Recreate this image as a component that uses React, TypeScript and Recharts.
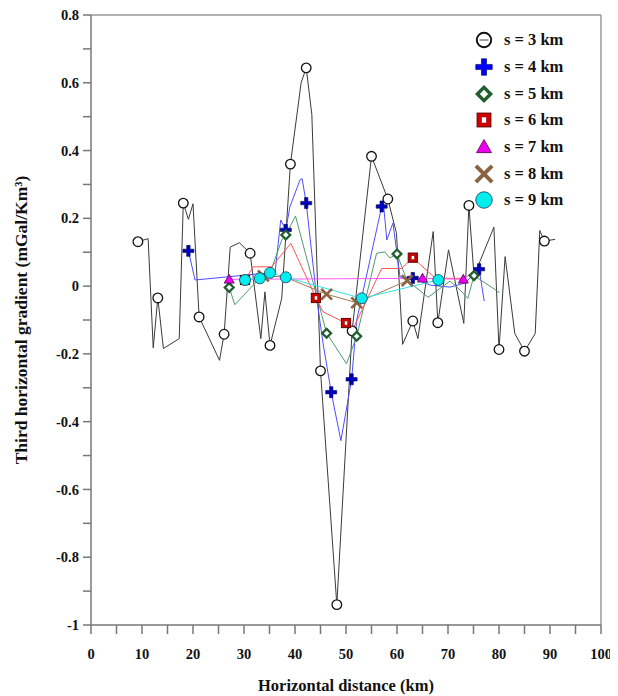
import { ComposedChart, Line, XAxis, YAxis, ReferenceLine, Label } from "recharts";

// [distance km, gradient, 1 = draw marker]
type Row = [number, number, number];

const s3km: Row[] = [
  [9.2, 0.131, 1], [11.2, 0.14, 0], [12.2, -0.182, 0], [13.1, -0.035, 1], [14.2, -0.184, 0],
  [17.3, -0.155, 0], [18.1, 0.245, 1], [19.1, 0.197, 0], [20.0, 0.243, 0], [21.2, -0.091, 1],
  [25.2, -0.219, 0], [26.1, -0.142, 1], [27.3, 0.115, 0], [29.1, 0.128, 0], [31.2, 0.097, 1],
  [33.3, -0.155, 0], [34.1, -0.017, 0], [35.1, -0.175, 1], [37.4, -0.036, 0], [39.1, 0.36, 1],
  [41.2, 0.6, 0], [42.2, 0.644, 1], [43.3, 0.506, 0], [45.0, -0.25, 1], [48.2, -0.94, 1],
  [51.2, -0.132, 1], [55.0, 0.383, 1], [58.2, 0.257, 1], [59.9, 0.156, 0], [61.1, -0.172, 0],
  [63.1, -0.103, 1], [64.1, -0.155, 0], [67.1, 0.161, 0], [68.0, -0.108, 1], [70.1, 0.107, 0],
  [73.1, -0.11, 0], [74.1, 0.238, 1], [75.1, 0.03, 0], [79.0, 0.174, 0], [80.0, -0.187, 1],
  [81.2, 0.087, 0], [83.1, -0.14, 0], [85.0, -0.192, 1], [87.1, -0.14, 0], [88.0, 0.164, 0],
  [88.9, 0.133, 1], [91.0, 0.138, 0],
];

const s4km: Row[] = [
  [19.1, 0.104, 1], [20.4, 0.018, 0], [36.1, 0.041, 0], [37.2, 0.195, 0], [38.2, 0.166, 1],
  [39.0, 0.234, 0], [41.0, 0.314, 0], [41.4, 0.317, 0], [42.2, 0.245, 1], [44.3, -0.041, 0],
  [45.5, -0.169, 0], [47.1, -0.313, 1], [49.0, -0.456, 0], [51.1, -0.275, 1], [52.1, -0.1, 0],
  [54.7, 0.077, 0], [57.0, 0.235, 1], [57.3, 0.251, 0], [58.0, 0.136, 0], [59.2, 0.186, 0],
  [59.9, 0.107, 0], [60.6, 0.027, 0], [63.1, 0.024, 1], [66.5, 0.003, 0], [70.4, -0.003, 0],
  [73.3, 0.009, 0], [76.1, 0.05, 1], [77.1, -0.044, 0],
];

const s5km: Row[] = [
  [27.1, -0.004, 1], [28.2, -0.055, 0], [33.1, 0.024, 0], [35.1, 0.038, 0], [37.4, 0.136, 0],
  [38.2, 0.151, 1], [40.1, 0.207, 0], [46.2, -0.139, 1], [50.1, -0.229, 0], [52.1, -0.148, 1],
  [56.0, 0.097, 0], [57.6, 0.101, 0], [58.6, 0.083, 0], [60.0, 0.095, 1], [61.9, 0.018, 0],
  [66.1, -0.033, 0], [70.4, 0.015, 0], [72.4, -0.012, 0], [73.9, -0.036, 0], [75.1, 0.031, 1],
  [80.1, -0.019, 0],
];

const s6km: Row[] = [
  [30.2, 0.018, 1], [31.8, 0.057, 0], [35.4, 0.057, 0], [39.2, 0.126, 0], [44.1, -0.035, 1],
  [45.5, -0.076, 0], [50.0, -0.109, 1], [51.1, -0.135, 0], [57.0, 0.052, 0], [60.9, 0.052, 0],
  [63.1, 0.084, 1], [67.5, 0.023, 0], [73.0, 0.023, 0],
];

const s7km: Row[] = [
  [27.1, 0.02, 1], [65.0, 0.023, 1], [73.0, 0.02, 1], [75.1, 0.044, 0],
];

const s8km: Row[] = [
  [33.8, 0.03, 1], [38.0, 0.027, 0], [46.2, -0.024, 1], [52.1, -0.049, 1], [62.0, 0.016, 1],
];

const s9km: Row[] = [
  [30.2, 0.018, 1], [33.1, 0.023, 1], [35.1, 0.039, 1], [38.2, 0.026, 1], [53.1, -0.036, 1],
  [68.1, 0.018, 1],
];

const xTicks = [0, 5, 10, 15, 20, 25, 30, 35, 40, 45, 50, 55, 60, 65, 70, 75, 80, 85, 90, 95, 100];
const yTicks = [0.8, 0.7, 0.6, 0.5, 0.4, 0.3, 0.2, 0.1, 0, -0.1, -0.2, -0.3, -0.4, -0.5, -0.6, -0.7, -0.8, -0.9, -1];

type Kind = "ring" | "plus" | "diamond" | "square" | "triangle" | "cross" | "disc";

const series: { name: string; rows: Row[]; color: string; kind: Kind }[] = [
  { name: "s = 3 km", rows: s3km, color: "#3a3a3a", kind: "ring" },
  { name: "s = 4 km", rows: s4km, color: "#4d4dff", kind: "plus" },
  { name: "s = 5 km", rows: s5km, color: "#4f9a6c", kind: "diamond" },
  { name: "s = 6 km", rows: s6km, color: "#ff5555", kind: "square" },
  { name: "s = 7 km", rows: s7km, color: "#ff55ff", kind: "triangle" },
  { name: "s = 8 km", rows: s8km, color: "#a07a5a", kind: "cross" },
  { name: "s = 9 km", rows: s9km, color: "#33e0e0", kind: "disc" },
];

const serif = "'Liberation Serif', 'Times New Roman', serif";

function Marker({ kind, cx, cy, k = 1 }: { kind: Kind; cx: number; cy: number; k?: number }) {
  switch (kind) {
    case "ring":
      return (
        <g>
          <circle cx={cx} cy={cy} r={4.8 * k} fill="#fff" stroke="#111" strokeWidth={1.3 * k} />
          {k > 1 && <line x1={cx - 3 * k} x2={cx + 3 * k} y1={cy} y2={cy} stroke="#999" strokeWidth={1.2 * k} />}
        </g>
      );
    case "plus": {
      const a = 5.5 * k;
      const t = 1.7 * k;
      const d = `M${cx - t},${cy - a}H${cx + t}V${cy - t}H${cx + a}V${cy + t}H${cx + t}V${cy + a}H${cx - t}V${cy + t}H${cx - a}V${cy - t}H${cx - t}Z`;
      return <path d={d} fill={k > 1 ? "#0000ff" : "#0000c0"} stroke="#00004a" strokeWidth={0.6} />;
    }
    case "diamond": {
      const a = 4.4 * k;
      return (
        <polygon
          points={`${cx},${cy - a} ${cx + a},${cy} ${cx},${cy + a} ${cx - a},${cy}`}
          fill="#fff"
          stroke="#1f5e2e"
          strokeWidth={2.3 * k}
        />
      );
    }
    case "square": {
      const a = 4.6 * k;
      return (
        <g>
          <rect x={cx - a} y={cy - a} width={2 * a} height={2 * a} fill="#d40000" stroke="#5a0000" strokeWidth={1} />
          <rect x={cx - 1.6 * k} y={cy - 2 * k} width={3.2 * k} height={4 * k} fill="#fff" stroke="#700" strokeWidth={0.5} />
        </g>
      );
    }
    case "triangle": {
      const a = 5 * k;
      return (
        <polygon
          points={`${cx},${cy - a} ${cx + a},${cy + a * 0.75} ${cx - a},${cy + a * 0.75}`}
          fill="#ee00ee"
          stroke="#550055"
          strokeWidth={0.8}
        />
      );
    }
    case "cross": {
      const a = 4.5 * k;
      return (
        <g stroke="#8a6440" strokeWidth={2.6 * k} strokeLinecap="square">
          <line x1={cx - a} y1={cy - a} x2={cx + a} y2={cy + a} />
          <line x1={cx - a} y1={cy + a} x2={cx + a} y2={cy - a} />
        </g>
      );
    }
    default:
      return <circle cx={cx} cy={cy} r={5.5 * k} fill="#00eeee" stroke="#1a3a5a" strokeWidth={0.8} />;
  }
}

const toPoints = (rows: Row[]) => rows.map(([x, y, m]) => ({ x, y, m }));

function LegendBox() {
  return (
    <div
      style={{
        position: "absolute",
        top: 19,
        left: 464,
        fontFamily: serif,
        fontWeight: "bold",
        fontSize: 16.5,
        color: "#111",
      }}
    >
      {series.map((s) => (
        <div key={s.name} style={{ display: "flex", alignItems: "center", height: 26.7 }}>
          <svg width={24} height={24}>
            <Marker kind={s.kind} cx={12} cy={12} k={1.5} />
          </svg>
          <span style={{ marginLeft: 8 }}>{s.name}</span>
        </div>
      ))}
    </div>
  );
}

const fmtY = (v: number) => (Math.round(v * 10) % 2 === 0 ? String(v) : "");
const fmtX = (v: number) => (v % 10 === 0 ? String(v) : "");

export default function App() {
  const tickStyle = { fontFamily: serif, fontWeight: "bold", fontSize: 14.5, fill: "#111" };
  return (
    <div style={{ position: "relative", width: 610, height: 688 }}>
      <ComposedChart width={610} height={688} margin={{ top: 7, right: 17, bottom: 3, left: 0 }}>
        <XAxis
          type="number"
          dataKey="x"
          domain={[0, 100]}
          ticks={xTicks}
          interval={0}
          tickFormatter={fmtX}
          tick={tickStyle}
          tickSize={9}
          tickMargin={15}
          height={68}
          stroke="#777"
          strokeWidth={1.5}
        >
          <Label
            value="Horizontal distance (km)"
            position="insideBottom"
            offset={2}
            style={{ fontFamily: serif, fontWeight: "bold", fontSize: 16.5, fill: "#111" }}
          />
        </XAxis>
        <YAxis
          type="number"
          domain={[-1, 0.8]}
          ticks={yTicks}
          interval={0}
          tickFormatter={fmtY}
          tick={tickStyle}
          tickSize={8}
          tickMargin={4}
          width={83}
          stroke="#777"
          strokeWidth={1.5}
        >
          <Label
            value="Third horizontal gradient (mGal/Km³)"
            angle={-90}
            position="insideLeft"
            offset={13}
            style={{ fontFamily: serif, fontWeight: "bold", fontSize: 17.5, fill: "#111", textAnchor: "middle" }}
          />
        </YAxis>
        <ReferenceLine y={0.8} stroke="#999" strokeWidth={1.5} />
        <ReferenceLine x={100} stroke="#999" strokeWidth={1.5} />
        {series.map((s) => (
          <Line
            key={s.name}
            name={s.name}
            data={toPoints(s.rows)}
            dataKey="y"
            type="linear"
            stroke={s.color}
            strokeWidth={1}
            isAnimationActive={false}
            activeDot={false}
            dot={(p: any) =>
              p.payload.m ? (
                <Marker key={`${s.name}-${p.index}`} kind={s.kind} cx={p.cx} cy={p.cy} />
              ) : (
                <g key={`${s.name}-${p.index}`} />
              )
            }
          />
        ))}
      </ComposedChart>
      <LegendBox />
    </div>
  );
}
